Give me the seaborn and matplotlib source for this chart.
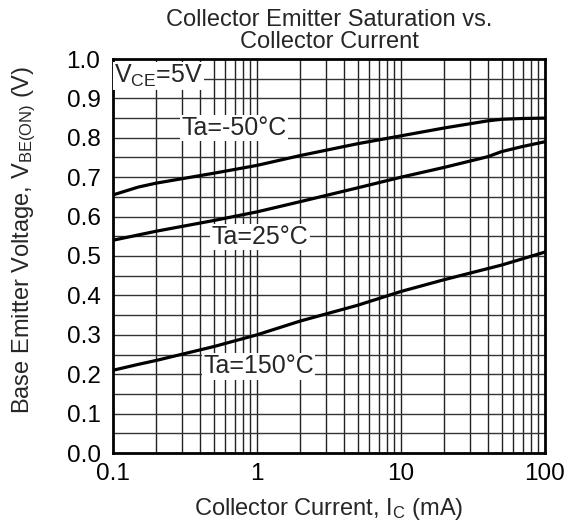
import numpy as np
import pandas as pd
import matplotlib
matplotlib.use("Agg")
import matplotlib.pyplot as plt
import seaborn as sns
from matplotlib.ticker import FixedLocator, NullFormatter

# Data
ic_m50 = [0.1, 0.15, 0.2, 0.5, 1, 2, 5, 10, 20, 40, 50, 70, 100]
vbe_m50 = [0.655, 0.675, 0.685, 0.71, 0.73, 0.755, 0.785, 0.805, 0.825, 0.843, 0.847, 0.849, 0.85]
ic_25 = [0.1, 0.2, 0.5, 1, 2, 5, 10, 20, 40, 50, 70, 100]
vbe_25 = [0.54, 0.563, 0.59, 0.612, 0.638, 0.673, 0.70, 0.725, 0.752, 0.765, 0.778, 0.79]
ic_150 = [0.1, 0.15, 0.2, 0.5, 1, 2, 5, 10, 20, 50, 100]
vbe_150 = [0.21, 0.225, 0.235, 0.27, 0.30, 0.335, 0.375, 0.41, 0.44, 0.477, 0.51]
series_names = ["Ta=-50°C", "Ta=25°C", "Ta=150°C"]

x_ticks = [0.1, 1, 10, 100]
x_ticklabels = ["0.1", "1", "10", "100"]
y_ticks = [0.0, 0.1, 0.2, 0.3, 0.4, 0.5, 0.6, 0.7, 0.8, 0.9, 1.0]

df = pd.concat([
    pd.DataFrame({"Ic": ic_m50, "Vbe": vbe_m50, "T": series_names[0]}),
    pd.DataFrame({"Ic": ic_25, "Vbe": vbe_25, "T": series_names[1]}),
    pd.DataFrame({"Ic": ic_150, "Vbe": vbe_150, "T": series_names[2]}),
])

sns.set_style("white")
plt.rcParams['font.family'] = ['Liberation Sans', 'DejaVu Sans']
plt.rcParams['mathtext.fontset'] = 'custom'
plt.rcParams['mathtext.rm'] = 'Liberation Sans'
plt.rcParams['mathtext.it'] = 'Liberation Sans'

fig = plt.figure(figsize=(5.70, 5.28), dpi=100)
ax = fig.add_axes([113/570, 1-453/528, (545-113)/570, (453-59)/528])

ax.set_xscale("log")
ax.set_xlim(0.1, 100)
ax.set_ylim(0.0, 1.0)

# grid
minor_x = [m * 10.0**e for e in (-1, 0, 1) for m in range(2, 10)]
for xv in minor_x + [1, 10]:
    ax.axvline(xv, color="#222222", lw=1.0, zorder=1)
for yv in np.arange(0.05, 1.0, 0.05):
    ax.axhline(yv, color="#333333", lw=1.0, zorder=1)

sns.lineplot(data=df, x="Ic", y="Vbe", units="T", estimator=None,
             color="black", lw=2.3, ax=ax, zorder=3, sort=False)

ax.set_xticks(x_ticks)
ax.set_xticklabels(x_ticklabels)
ax.xaxis.set_minor_locator(FixedLocator(minor_x))
ax.xaxis.set_minor_formatter(NullFormatter())
ax.set_yticks(y_ticks)
ax.set_yticklabels([f"{v:.1f}" for v in y_ticks])
ax.tick_params(axis="both", which="both", length=0, labelsize=17.5, colors="black")
ax.tick_params(axis="x", pad=7)
ax.tick_params(axis="y", pad=9)

for s in ax.spines.values():
    s.set_color("black")
    s.set_linewidth(2)
    s.set_visible(True)

bbox = dict(boxstyle="square,pad=0.05", fc="white", ec="none")
ax.text(0.69, 0.825, series_names[0], ha="center", va="center", fontsize=18, bbox=bbox, zorder=4)
ax.text(1.05, 0.548, series_names[1], ha="center", va="center", fontsize=18, bbox=bbox, zorder=4)
ax.text(1.03, 0.22, series_names[2], ha="center", va="center", fontsize=18, bbox=bbox, zorder=4)
ax.text(0.102, 0.957, r"V$_{\mathrm{CE}}$=5V", ha="left", va="center", fontsize=18, bbox=bbox, zorder=4)

ax.set_title("Collector Emitter Saturation vs.\nCollector Current", fontsize=17, pad=8, linespacing=1.0)
ax.set_xlabel(r"Collector Current, I$_{\mathrm{C}}$ (mA)", fontsize=17, labelpad=8)
ax.set_ylabel(r"Base Emitter Voltage, V$_{\mathrm{BE(ON)}}$ (V)", fontsize=17)
ax.yaxis.set_label_coords(-0.174, 0.54)

fig.savefig("out.png", dpi=100)
